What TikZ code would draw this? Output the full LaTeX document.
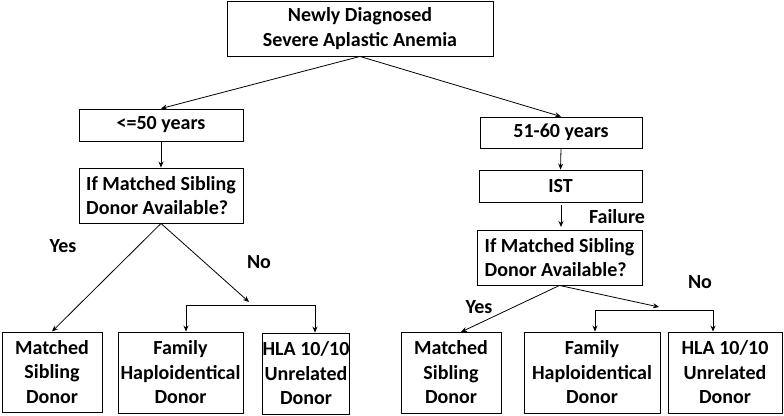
\documentclass[tikz,border=0pt]{standalone}
\usepackage{fontspec}
\setmainfont{Carlito}
\usetikzlibrary{arrows.meta}
\begin{document}
\begin{tikzpicture}[x=1pt,y=-1pt,
  box/.style={draw,line width=0.9pt,inner sep=0pt,font=\bfseries\fontsize{20}{24.5}\selectfont,align=center},
  lbl/.style={font=\bfseries\fontsize{20}{24}\selectfont,inner sep=0pt},
  conn/.style={line width=0.8pt},
  arr/.style={conn,-{Stealth[length=6pt,width=5pt]}}]
\useasboundingbox (0,0) rectangle (784,415);
\node[box,minimum width=266pt,minimum height=55pt] (top) at (360,28.5) {Newly Diagnosed\\Severe Aplastic Anemia};
\node[box,minimum width=164pt,minimum height=32pt] (le50) at (161,125) {<=50 years};
\node[box,minimum width=162pt,minimum height=31pt] (r5160) at (561,132.5) {51-60 years};
\node[box,minimum width=164pt,minimum height=55pt,align=left] (lq) at (161,195.5) {If Matched Sibling\\Donor Available?};
\node[box,minimum width=163pt,minimum height=32pt] (ist) at (560.5,186) {IST};
\node[box,minimum width=165pt,minimum height=55pt,align=left] (rq) at (559.5,257.5) {If Matched Sibling\\Donor Available?};
\node[box,minimum width=100pt,minimum height=80pt] (lm) at (52,372) {Matched\\Sibling\\Donor};
\node[box,minimum width=125pt,minimum height=81pt] (lf) at (180.5,372.5) {Family\\Haploidentical\\Donor};
\node[box,minimum width=86pt,minimum height=81pt] (lh) at (306,373.5) {HLA 10/10\\Unrelated\\Donor};
\node[box,minimum width=100pt,minimum height=81pt] (rm) at (451,372.5) {Matched\\Sibling\\Donor};
\node[box,minimum width=136pt,minimum height=81pt] (rf) at (592,372.5) {Family\\Haploidentical\\Donor};
\node[box,minimum width=114pt,minimum height=81pt] (rh) at (725,372.5) {HLA 10/10\\Unrelated\\Donor};
\node[lbl] (yes1) at (63,246) {Yes};
\node[lbl] (no1) at (259,262) {No};
\node[lbl] (fail) at (617,217) {Failure};
\node[lbl] (yes2) at (479,307) {Yes};
\node[lbl] (no2) at (700,282) {No};
\coordinate (lnt) at (249,302);
\coordinate (lbl1) at (186,305);
\coordinate (lbr1) at (315,305);
\coordinate (rnt) at (659,307);
\coordinate (rbl) at (595,310);
\coordinate (rbr) at (713,310);
\coordinate (fa1) at (561,205);
\coordinate (fa2) at (561,227);
\draw[arr] (top.south) -- (le50.north);
\draw[arr] (top.south) -- (r5160.north);
\draw[arr] (le50.south) -- (lq.north);
\draw[arr] (r5160.south) -- (ist.north);
\draw[arr] (fa1) -- (fa2);
\draw[arr] (lq.south) -- (lm.north);
\draw[arr] (lq.south) -- (lnt);
\draw[arr] (lbl1) -- (lbl1 |- lf.north);
\draw[conn] (lbl1) -- (lbr1);
\draw[arr] (lbr1) -- (lbr1 |- lh.north);
\draw[arr] (rq.south) -- (461,332);
\draw[arr] (rq.south) -- (rnt);
\draw[conn] (rbl) -- (rbr);
\draw[arr] (rbl) -- (rbl |- rf.north);
\draw[arr] (rbr) -- (rbr |- rh.north);
\end{tikzpicture}
\end{document}
